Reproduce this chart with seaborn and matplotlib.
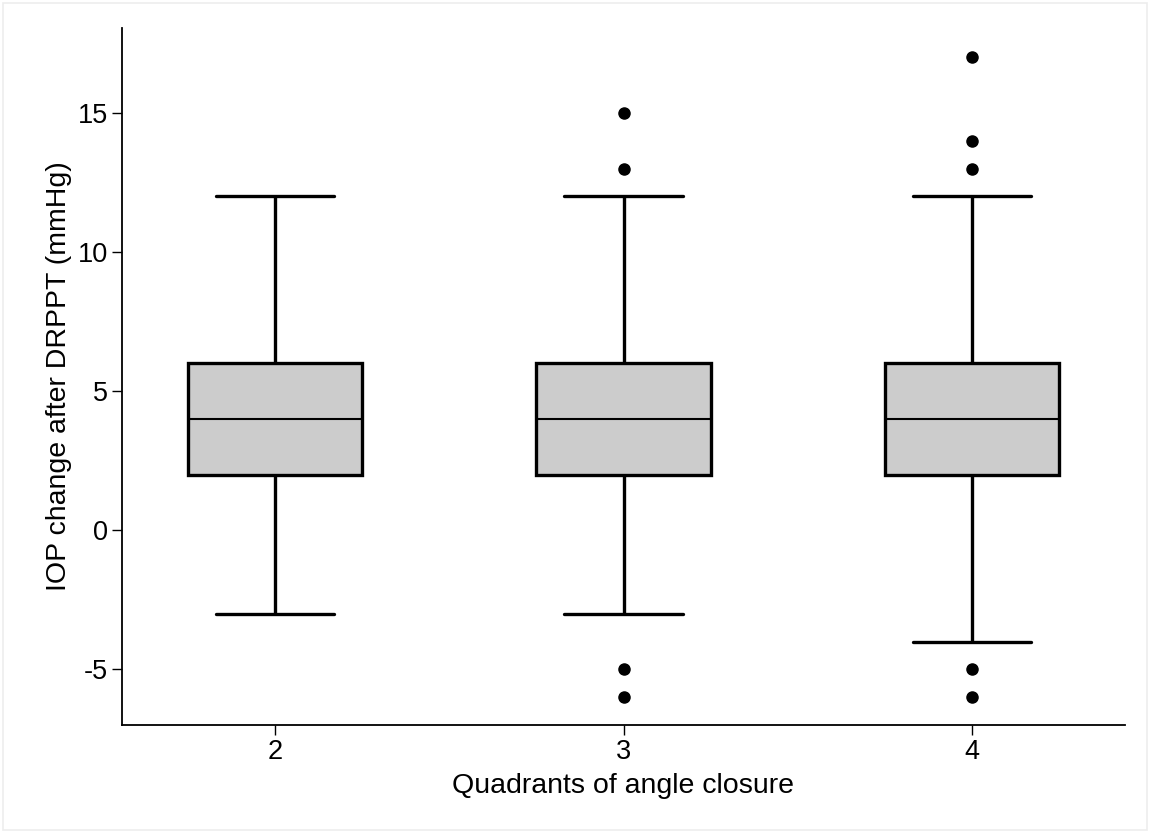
import numpy as np
import pandas as pd
import matplotlib
matplotlib.use("Agg")
import matplotlib.pyplot as plt
import seaborn as sns

# ── Data (values chosen so Q1=2, median=4, Q3=6 and whiskers/outliers match) ──
QUADRANTS = ["2", "3", "4"]
IOP_Q2 = [-3, 0, 1, 2, 2, 2, 3, 4, 4, 4, 5, 6, 6, 6, 8, 10, 12]
IOP_Q3 = [-6, -5, -3, 0, 2, 2, 2, 3, 4, 4, 4, 5, 6, 6, 6, 8, 12, 13, 15]
IOP_Q4 = [-6, -5, -4, 0, 2, 2, 2, 2, 3, 4, 4, 4, 5, 6, 6, 6, 6, 8, 12, 13, 14, 17]

Y_TICKS = [-5, 0, 5, 10, 15]

df = pd.concat([
    pd.DataFrame({"quadrant": q, "iop": vals})
    for q, vals in zip(QUADRANTS, [IOP_Q2, IOP_Q3, IOP_Q4])
])

sns.set_style("white")
plt.rcParams["font.family"] = ["Liberation Sans", "DejaVu Sans"]
plt.rcParams["text.color"] = "black"
plt.rcParams["axes.labelcolor"] = "black"
plt.rcParams["xtick.color"] = "black"
plt.rcParams["ytick.color"] = "black"

fig = plt.figure(figsize=(11.5, 8.33), dpi=100)
ax = fig.add_axes([122 / 1150, 1 - 725 / 833, (1125 - 122) / 1150, (725 - 28) / 833])

lw = 2.4
sns.boxplot(
    data=df, x="quadrant", y="iop", order=QUADRANTS, ax=ax,
    width=0.5, color="#cccccc", saturation=1, linecolor="black",
    linewidth=lw, capwidths=0.34,
    boxprops={"edgecolor": "black", "linewidth": lw},
    whiskerprops={"color": "black", "linewidth": lw},
    capprops={"color": "black", "linewidth": lw},
    medianprops={"color": "black", "linewidth": 1.5},
    flierprops={"marker": "o", "markerfacecolor": "black",
                "markeredgecolor": "black", "markersize": 8},
)

ax.set_xlim(-0.44, 2.44)
ax.set_ylim(-7.0, 18.05)
ax.set_yticks(Y_TICKS)
ax.set_yticklabels([str(t) for t in Y_TICKS])

for side in ["top", "right"]:
    ax.spines[side].set_visible(False)
for side in ["left", "bottom"]:
    ax.spines[side].set_color("black")
    ax.spines[side].set_linewidth(1.3)

ax.tick_params(axis="both", direction="out", length=7, width=1.0,
               color="black", labelcolor="black", labelsize=19.5, pad=3,
               left=True, bottom=True)
ax.set_xlabel("Quadrants of angle closure", fontsize=20.5, labelpad=6)
ax.set_ylabel("IOP change after DRPPT (mmHg)", fontsize=20.5, labelpad=4)

# faint frame around the whole picture
fig.patches.append(plt.Rectangle((0.003, 0.004), 0.994, 0.992,
                                 transform=fig.transFigure, fill=False,
                                 edgecolor="#ededed", linewidth=1.2))

fig.savefig("out.png", dpi=100)
